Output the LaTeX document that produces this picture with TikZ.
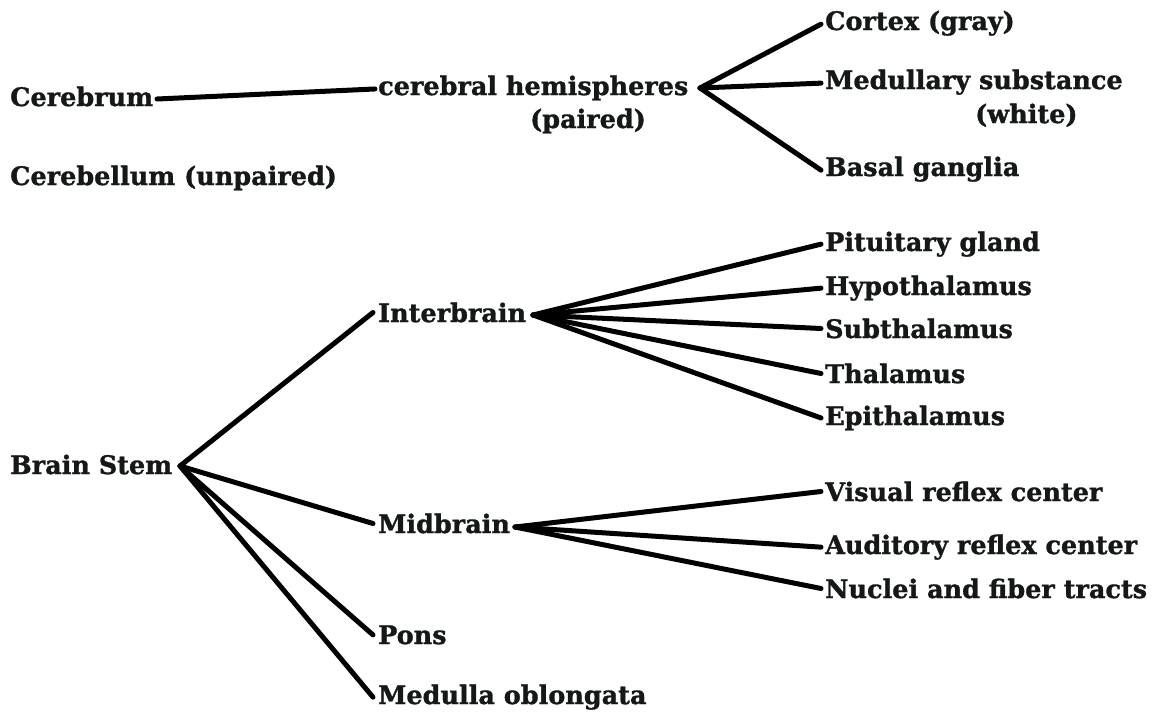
\documentclass[tikz,border=0pt]{standalone}
\usepackage{fontspec}
\setmainfont{DejaVu Serif}[BoldFeatures={FakeBold=1.2}]
\definecolor{ink}{HTML}{141818}
\begin{document}
\begin{tikzpicture}[x=1pt,y=-1pt,
  lbl/.style={anchor=base west, inner sep=0pt, text=ink, font=\fontsize{25.5}{30}\selectfont\bfseries},
  link/.style={line width=5pt, line cap=round, draw=black}]
\useasboundingbox[fill=white] (0,0) rectangle (1162,713);
% labels
\node[lbl] (cerebrum) at (10,106) {Cerebrum};
\node[lbl] (hemi) at (378,95) {cerebral hemispheres};
\node[lbl] (paired) at (530,128) {(paired)};
\node[lbl] (cortex) at (825,30) {Cortex (gray)};
\node[lbl] (medsub) at (825,89) {Medullary substance};
\node[lbl] (white) at (975,123) {(white)};
\node[lbl] (basal) at (825,176) {Basal ganglia};
\node[lbl] (cerebellum) at (10,185) {Cerebellum (unpaired)};
\node[lbl] (inter) at (378,322) {Interbrain};
\node[lbl] (pit) at (825,251) {Pituitary gland};
\node[lbl] (hypo) at (825,295) {Hypothalamus};
\node[lbl] (sub) at (825,338) {Subthalamus};
\node[lbl] (thal) at (825,383) {Thalamus};
\node[lbl] (epi) at (825,425) {Epithalamus};
\node[lbl] (stem) at (10,474) {Brain Stem};
\node[lbl] (mid) at (378,533) {Midbrain};
\node[lbl] (vis) at (825,501) {Visual reflex center};
\node[lbl] (aud) at (825,554) {Auditory reflex center};
\node[lbl] (nuc) at (825,598) {Nuclei and fiber tracts};
\node[lbl] (pons) at (378,644) {Pons};
\node[lbl] (med) at (378,704) {Medulla oblongata};
% junctions
\coordinate (jc) at (157,99);
\coordinate (jh) at (700,88);
\coordinate (js) at (180,466);
\coordinate (ji) at (533,315);
\coordinate (jm) at (515,527);
% connectors
\draw[link] (jc) -- ([xshift=-3pt,yshift=-1pt]hemi.west);
\foreach \t/\dy in {cortex/-1, medsub/-1, basal/-1}
  \draw[link] (jh) -- ([xshift=-4pt,yshift=\dy pt]\t.west);
\foreach \t in {inter, mid, pons, med}
  \draw[link] (js) -- ([xshift=-5pt]\t.west);
\foreach \t in {pit, hypo, sub, thal, epi}
  \draw[link] (ji) -- ([xshift=-4pt]\t.west);
\foreach \t in {vis, aud, nuc}
  \draw[link] (jm) -- ([xshift=-4pt]\t.west);
\end{tikzpicture}
\end{document}
